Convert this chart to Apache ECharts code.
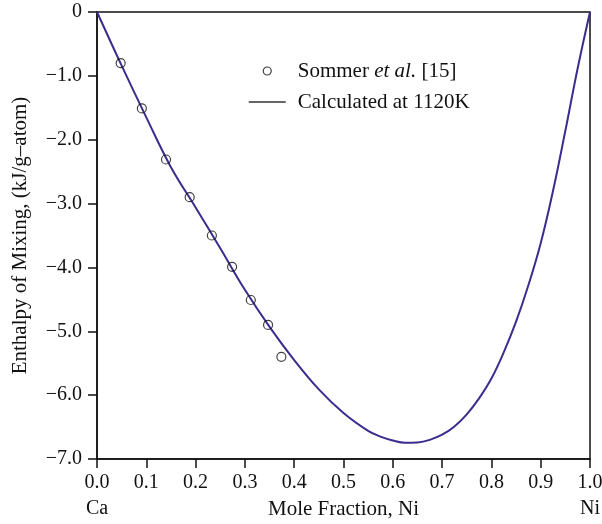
<!DOCTYPE html>
<html>
<head>
<meta charset="utf-8">
<title>Enthalpy of Mixing, Ca–Ni</title>
<script src="https://cdn.jsdelivr.net/npm/echarts@6/dist/echarts.min.js"></script>
<style>
  html, body { margin: 0; padding: 0; background: #fff; }
  #chart { width: 602px; height: 524px; }
</style>
</head>
<body>
<div id="chart"></div>
<script>
// Measured enthalpy of mixing (Sommer et al.)
const measuredX = [0.048, 0.091, 0.140, 0.188, 0.233, 0.274, 0.312, 0.347, 0.374];
const measuredH = [-0.80, -1.51, -2.31, -2.90, -3.50, -3.99, -4.51, -4.90, -5.40];

// Calculated curve at 1120 K
const calcX = [0.00, 0.05, 0.10, 0.15, 0.20, 0.25, 0.30, 0.35, 0.40, 0.45, 0.50, 0.55, 0.575, 0.60, 0.625, 0.65, 0.675, 0.70, 0.725, 0.75, 0.775, 0.80, 0.825, 0.85, 0.875, 0.90, 0.925, 0.95, 0.975, 1.00];
const calcH = [0.00, -0.84, -1.65, -2.43, -3.06, -3.70, -4.35, -4.93, -5.45, -5.91, -6.28, -6.56, -6.65, -6.71, -6.745, -6.74, -6.70, -6.62, -6.49, -6.30, -6.05, -5.74, -5.33, -4.85, -4.28, -3.62, -2.80, -1.86, -0.88, 0.00];

// Axis tick labels
const xTickLabels = ['0.0', '0.1', '0.2', '0.3', '0.4', '0.5', '0.6', '0.7', '0.8', '0.9', '1.0'];
const yTickLabels = ['\u22127.0', '\u22126.0', '\u22125.0', '\u22124.0', '\u22123.0', '\u22122.0', '\u22121.0', '0'];
const endMembers = ['Ca', 'Ni'];

const seriesNames = ['Sommer et al. [15]', 'Calculated at 1120K'];

const FONT = '"Liberation Serif", "DejaVu Serif", serif';
const INK = '#111';
const CURVE = '#3d2c8d';

const chart = echarts.init(document.getElementById('chart'), null, { renderer: 'canvas' });

// Tick label under the x axis; the two ends also name the pure elements
function xLabel(v) {
  const i = Math.round(v * 10);
  if (i === 0) return xTickLabels[i] + '\n' + endMembers[0];
  if (i === 10) return xTickLabels[i] + '\n' + endMembers[1];
  return xTickLabels[i];
}

chart.setOption({
  animation: false,
  backgroundColor: '#fff',
  textStyle: { fontFamily: FONT, color: INK },
  grid: {
    left: 97, right: 12, top: 12, bottom: 65,
    containLabel: false, outerBoundsMode: 'none',
    show: true, borderColor: INK, borderWidth: 1.5, backgroundColor: 'transparent'
  },
  legend: {
    orient: 'vertical',
    left: 243, top: 54,
    itemWidth: 37, itemHeight: 8, itemGap: 7,
    textStyle: {
      fontFamily: FONT, fontSize: 21, color: INK, lineHeight: 24,
      padding: [0, 0, 0, 7],
      rich: {
        n: { fontFamily: FONT, fontSize: 21, color: INK, lineHeight: 24 },
        i: { fontFamily: FONT, fontSize: 21, color: INK, lineHeight: 24, fontStyle: 'italic' }
      }
    },
    formatter: name => name === seriesNames[0]
      ? '{n|Sommer }{i|et al.}{n| [15]}'
      : '{n|' + name + '}',
    data: [
      { name: seriesNames[0], icon: 'circle',
        itemStyle: { color: '#fff', borderColor: INK, borderWidth: 1.2 } },
      { name: seriesNames[1],
        itemStyle: { opacity: 0 }, lineStyle: { color: '#333', width: 1.5 } }
    ]
  },
  xAxis: {
    type: 'value', min: 0, max: 1, interval: 0.1,
    name: 'Mole Fraction, Ni', nameLocation: 'middle', nameGap: 40,
    nameMoveOverlap: false,
    nameTextStyle: { fontFamily: FONT, fontSize: 21, color: INK },
    axisLine: { onZero: false, lineStyle: { color: INK, width: 1.5 } },
    axisTick: { inside: false, length: 9, lineStyle: { color: INK, width: 1.5 } },
    axisLabel: {
      margin: 11, fontFamily: FONT, fontSize: 20, color: INK, lineHeight: 26,
      formatter: xLabel
    },
    splitLine: { show: false }
  },
  yAxis: {
    type: 'value', min: -7, max: 0, interval: 1,
    name: 'Enthalpy of Mixing, (kJ/g\u2013atom)', nameLocation: 'middle', nameGap: 66,
    nameRotate: 90, nameMoveOverlap: false,
    nameTextStyle: { fontFamily: FONT, fontSize: 21, color: INK },
    axisLine: { onZero: false, lineStyle: { color: INK, width: 1.5 } },
    axisTick: { inside: false, length: 9, lineStyle: { color: INK, width: 1.5 } },
    axisLabel: {
      margin: 15, fontFamily: FONT, fontSize: 20, color: INK,
      formatter: v => yTickLabels[Math.round(v) + 7]
    },
    splitLine: { show: false }
  },
  series: [
    {
      name: seriesNames[1], type: 'line',
      data: calcX.map((x, i) => [x, calcH[i]]),
      symbol: 'none', smooth: 0.4,
      lineStyle: { color: CURVE, width: 2 },
      itemStyle: { color: CURVE },
      z: 2
    },
    {
      name: seriesNames[0], type: 'scatter',
      data: measuredX.map((x, i) => [x, measuredH[i]]),
      symbol: 'circle', symbolSize: 9,
      itemStyle: { color: 'rgba(255,255,255,0)', borderColor: INK, borderWidth: 1.2 },
      z: 3
    }
  ]
});
</script>
</body>
</html>
